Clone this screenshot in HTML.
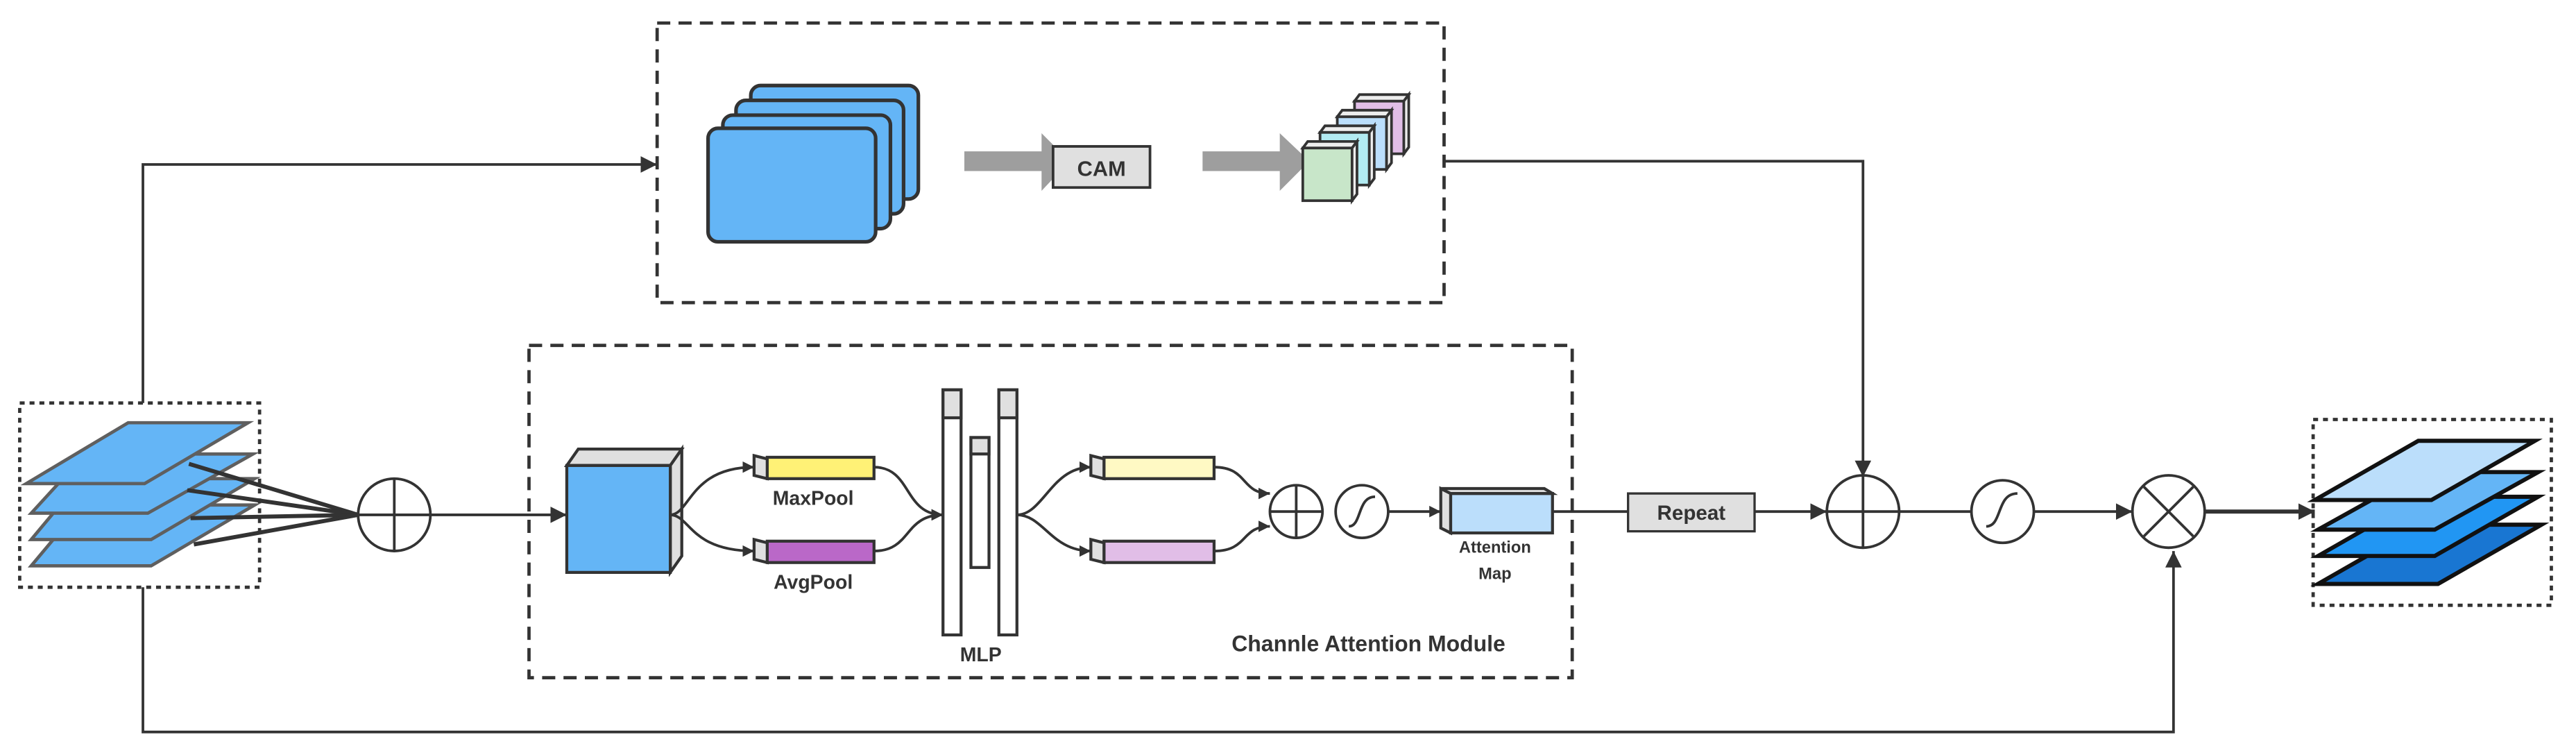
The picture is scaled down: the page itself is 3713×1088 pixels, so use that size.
<!DOCTYPE html>
<html><head><meta charset="utf-8"><style>html,body{margin:0;padding:0;background:#fff}svg{display:block}</style></head><body>
<svg width="3713" height="1088" viewBox="0 0 1568 459" preserveAspectRatio="none" xmlns="http://www.w3.org/2000/svg" font-family="Liberation Sans, sans-serif" font-weight="bold">
<defs>
<marker id="a" viewBox="0 0 10 10" refX="10" refY="5" markerWidth="7" markerHeight="7" markerUnits="userSpaceOnUse" orient="auto"><path d="M0,0L10,5L0,10z" fill="#333"/></marker>
<marker id="b" viewBox="0 0 10 10" refX="10" refY="5" markerWidth="10" markerHeight="10" markerUnits="userSpaceOnUse" orient="auto"><path d="M0,0L10,5L0,10z" fill="#333"/></marker>
</defs>
<g fill="none" stroke="#333" stroke-width="1.6">
<path d="M87,245V100H400" marker-end="url(#b)"/>
<path d="M87,357V445H1323V335" marker-end="url(#b)"/>
<path d="M879,98H1134V290" marker-end="url(#b)"/>
<rect x="400" y="14" width="479" height="170" stroke-width="2" stroke-dasharray="8,5"/>
<rect x="322" y="210" width="635" height="202" stroke-width="2" stroke-dasharray="8,5"/>
<rect x="12" y="245" width="146" height="112" stroke-width="2" stroke-dasharray="3,3"/>
<rect x="1408" y="255" width="145" height="113" stroke-width="2" stroke-dasharray="3,3"/>
</g>
<g fill="#64b5f6" stroke="#5f5f5f" stroke-width="2">
<polygon points="19,344 50,307 155,307 92,344"/>
<polygon points="19,328 50,291 155,291 92,328"/>
<polygon points="19,312 52,276 154,276 90,312"/>
<polygon points="16,294 78,257 151,257 88,294"/>
</g>
<g stroke="#333" stroke-width="2.5" fill="none">
<line x1="115" y1="282" x2="218" y2="313"/><line x1="114" y1="298" x2="218" y2="313"/>
<line x1="116" y1="315" x2="218" y2="313"/><line x1="118" y1="331" x2="218" y2="313"/>
</g>
<g fill="none" stroke="#333" stroke-width="1.6">
<circle cx="240" cy="313" r="22" fill="#fff"/><path d="M218,313H262M240,291V335"/>
<path d="M262,313H345" marker-end="url(#b)"/>
</g>
<g fill="#64b5f6" stroke="#333" stroke-width="2.2">
<rect x="457" y="52" width="102" height="69" rx="6"/>
<rect x="448" y="61" width="102" height="69" rx="6"/>
<rect x="440" y="70" width="102" height="69" rx="6"/>
<rect x="431" y="78" width="102" height="69" rx="6"/>
</g>
<g fill="#9e9e9e"><polygon points="587,92 634,92 634,81 651,98 634,116 634,104 587,104"/><polygon points="732,92 779,92 779,81 797,98 779,116 779,104 732,104"/></g>
<rect x="641" y="89" width="59" height="25" fill="#e0e0e0" stroke="#333" stroke-width="1.6"/>
<text x="670.5" y="107" font-size="13" text-anchor="middle" fill="#333">CAM</text>
<g stroke="#333" stroke-width="1.6">
<g transform="translate(31.5,-28.5)"><polygon points="793,90 796,86 826,86 823,90" fill="#eee"/><rect x="793" y="90" width="30" height="32" fill="#e1bee7"/><polygon points="823,90 826,86 826,118 823,122" fill="#eee"/></g>
<g transform="translate(21,-19)"><polygon points="793,90 796,86 826,86 823,90" fill="#eee"/><rect x="793" y="90" width="30" height="32" fill="#bbdefb"/><polygon points="823,90 826,86 826,118 823,122" fill="#eee"/></g>
<g transform="translate(10.5,-9.5)"><polygon points="793,90 796,86 826,86 823,90" fill="#eee"/><rect x="793" y="90" width="30" height="32" fill="#b2ebf2"/><polygon points="823,90 826,86 826,118 823,122" fill="#eee"/></g>
<g><polygon points="793,90 796,86 826,86 823,90" fill="#eee"/><rect x="793" y="90" width="30" height="32" fill="#c8e6c9"/><polygon points="823,90 826,86 826,118 823,122" fill="#eee"/></g>
</g>
<g stroke="#333" stroke-width="1.8">
<polygon points="345,283 352,273 415,273 408,283" fill="#e0e0e0"/>
<polygon points="408,283 415,273 415,338 408,348" fill="#e0e0e0"/>
<rect x="345" y="283" width="63" height="65" fill="#64b5f6"/>
<rect x="467" y="278" width="65" height="13" fill="#fff176"/><polygon points="459,277 467,279 467,291 459,289" fill="#e0e0e0"/>
<rect x="467" y="329" width="65" height="13" fill="#ba68c8"/><polygon points="459,328 467,330 467,342 459,340" fill="#e0e0e0"/>
<rect x="574" y="237" width="11" height="149" fill="#fff"/><rect x="574" y="237" width="11" height="17" fill="#e0e0e0"/>
<rect x="591" y="266" width="11" height="79" fill="#fff"/><rect x="591" y="266" width="11" height="10" fill="#e0e0e0"/>
<rect x="608" y="237" width="11" height="149" fill="#fff"/><rect x="608" y="237" width="11" height="17" fill="#e0e0e0"/>
<rect x="672" y="278" width="67" height="13" fill="#fff9c4"/><polygon points="664,277 672,279 672,291 664,289" fill="#e0e0e0"/>
<rect x="672" y="329" width="67" height="13" fill="#e1bee7"/><polygon points="664,328 672,330 672,342 664,340" fill="#e0e0e0"/>
<rect x="883" y="300" width="62" height="24" fill="#bbdefb"/><polygon points="877,297 883,300 883,324 877,321" fill="#e0e0e0"/><polygon points="877,297 940,297 945,300 883,300" fill="#e0e0e0"/>
</g>
<g fill="none" stroke="#333" stroke-width="1.6">
<path d="M408,313C420,313 420,284 459,284" marker-end="url(#a)"/>
<path d="M408,313C420,313 420,335 459,335" marker-end="url(#a)"/>
<path d="M532,284C555,284 550,313 574,313" marker-end="url(#a)"/>
<path d="M532,335C555,335 550,313 574,313" marker-end="url(#a)"/>
<path d="M619,313C635,313 640,284 664,284" marker-end="url(#a)"/>
<path d="M619,313C635,313 640,335 664,335" marker-end="url(#a)"/>
<path d="M739,284C760,284 755,300 773,300" marker-end="url(#a)"/>
<path d="M739,335C760,335 755,320 773,320" marker-end="url(#a)"/>
<circle cx="789" cy="311" r="16" fill="#fff"/><path d="M773,311H805M789,295V327"/>
<circle cx="829" cy="311" r="16" fill="#fff"/><path d="M821,320C829,320 826,302 837,302"/>
<path d="M845,311H877" marker-end="url(#a)"/>
<path d="M945,311H991"/>
<path d="M1068,311H1112" marker-end="url(#b)"/>
<circle cx="1134" cy="311" r="22" fill="#fff"/><path d="M1112,311H1156M1134,289V333"/>
<path d="M1156,311H1200"/>
<circle cx="1219" cy="311" r="19" fill="#fff"/><path d="M1209,320C1219,320 1215,300 1228,300"/>
<path d="M1238,311H1298" marker-end="url(#b)"/>
<circle cx="1320" cy="311" r="22" fill="#fff"/><path d="M1305,296L1335,326M1335,296L1305,326"/>
<path d="M1342,311H1409" stroke-width="2.5" marker-end="url(#b)"/>
</g>
<text x="495" y="307" font-size="12" text-anchor="middle" fill="#333">MaxPool</text>
<text x="495" y="358" font-size="12" text-anchor="middle" fill="#333">AvgPool</text>
<text x="597" y="402" font-size="12" text-anchor="middle" fill="#333">MLP</text>
<text x="910" y="336" font-size="10" text-anchor="middle" fill="#333">Attention</text>
<text x="910" y="352" font-size="10" text-anchor="middle" fill="#333">Map</text>
<text x="833" y="396" font-size="13.5" text-anchor="middle" fill="#333">Channle Attention Module</text>
<rect x="991" y="300" width="77" height="23" fill="#e0e0e0" stroke="#333" stroke-width="1.4"/>
<text x="1029.5" y="316" font-size="12.5" text-anchor="middle" fill="#333">Repeat</text>
<g stroke="#111" stroke-width="2.5">
<polygon points="1411,355 1474,319 1547,319 1484,355" fill="#1976d2"/>
<polygon points="1411,338 1474,302 1545,302 1482,338" fill="#2196f3"/>
<polygon points="1411,322 1474,287 1545,287 1482,322" fill="#64b5f6"/>
<polygon points="1409,304 1472,268 1543,268 1480,304" fill="#bbdefb"/>
</g>
</svg>
</body></html>
